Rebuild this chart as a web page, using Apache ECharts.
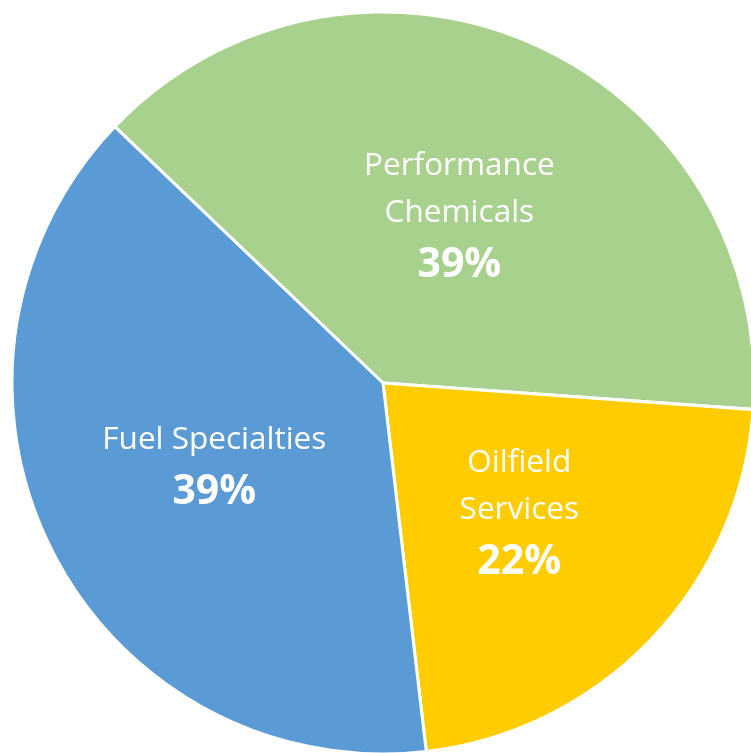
<!DOCTYPE html>
<html>
<head>
<meta charset="utf-8">
<script src="https://cdn.jsdelivr.net/npm/echarts@6/dist/echarts.min.js"></script>
<style>
  html, body { margin: 0; padding: 0; background: #fff; }
  #chart { width: 751px; height: 753px; }
</style>
</head>
<body>
<div id="chart"></div>
<script>
// segment data
const segments = ['Performance\nChemicals', 'Oilfield\nServices', 'Fuel Specialties'];
const shares = [39, 22, 39];
const colors = ['#A9D18E', '#FFCC00', '#5B9BD5'];

document.addEventListener('DOMContentLoaded', function () {
    const myChart = echarts.init(document.getElementById('chart'));

    const option = {
        animation: false,
        series: [{
            type: 'pie',
            center: [383, 383],
            radius: [0, 371],
            startAngle: 136.3,
            clockwise: true,
            emphasis: { disabled: true },
            itemStyle: {
                borderColor: '#ffffff',
                borderWidth: 3
            },
            label: {
                show: true,
                position: 'inside',
                color: '#ffffff',
                fontFamily: 'Open Sans',
                offset: [0, 2],
                formatter: function (p) {
                    const lines = p.name.split('\n').map(s => '{n|' + s + '}');
                    return lines.join('\n') + '\n{p|' + p.value + '%}';
                },
                rich: {
                    n: { fontSize: 31.5, lineHeight: 47, color: '#ffffff', fontFamily: 'Open Sans' },
                    p: { fontSize: 41, lineHeight: 58, fontWeight: 'bold', color: '#ffffff', fontFamily: 'Open Sans' }
                }
            },
            labelLine: { show: false },
            data: segments.map((name, i) => ({
                name: name,
                value: shares[i],
                itemStyle: { color: colors[i] },
                // green label sits a little lower in the original
                label: i === 0 ? { offset: [0, 8] } : {}
            }))
        }]
    };

    myChart.setOption(option);
});
</script>
</body>
</html>
